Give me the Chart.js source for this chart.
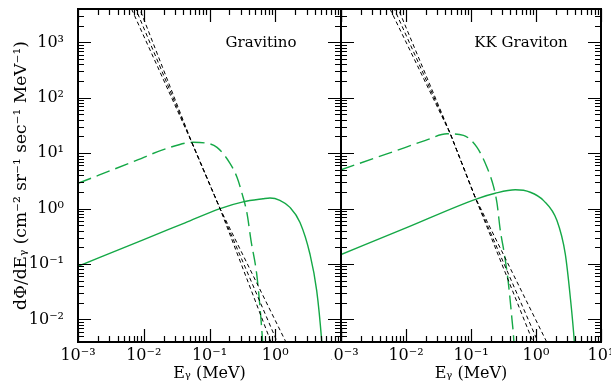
<!DOCTYPE html>
<html><head><meta charset="utf-8">
<script src="https://cdn.jsdelivr.net/npm/chart.js@4.4.0/dist/chart.umd.min.js"></script>
<style>
html,body{margin:0;padding:0;background:#fff;}
#wrap{position:relative;width:611px;height:385px;overflow:hidden;background:#fff;}
#c1{position:absolute;left:0;top:0;width:345px;height:385px;}
#c2{position:absolute;left:331px;top:0;width:280px;height:385px;}
</style></head><body>
<div id="wrap"><canvas id="c1" width="345" height="385"></canvas><canvas id="c2" width="280" height="385"></canvas></div>
<script>
// ---- tick values / labels ----
const xTickValues = [0.001, 0.01, 0.1, 1, 10];
const xTickLabels = ['10⁻³','10⁻²','10⁻¹','10⁰','10¹'];
const yTickValues = [0.01, 0.1, 1, 10, 100, 1000];
const yTickLabels = ['10⁻²','10⁻¹','10⁰','10¹','10²','10³'];
const panelNames = ['Gravitino', 'KK Graviton'];

// ---- Gravitino panel (E in MeV, flux) ----
const gravDashedE    = [0.001,0.00687,0.0226,0.0561,0.0851,0.130,0.205,0.262,0.312,0.372,0.428,0.522,0.586,0.644,0.692];
const gravDashedFlux = [2.85,7.0,12.2,15.7,15.3,12.7,6.55,3.66,1.88,0.818,0.264,0.0661,0.0166,0.00385,0.001];
const gravSolidE     = [0.001,0.01,0.0425,0.145,0.324,0.652,0.832,1.175,1.675,2.38,3.37,4.27,5.08,5.50];
const gravSolidFlux  = [0.0906,0.275,0.553,1.0,1.32,1.50,1.55,1.41,1.05,0.562,0.151,0.0331,0.00417,0.001];
const gravBgFlux     = [4000, 15.7, 1.0, 0.0039];
const gravBgE1       = [0.00652, 0.0537, 0.1445, 1.452];
const gravBgE2       = [0.00757, 0.0537, 0.1445, 1.072];
const gravBgE3       = [0.00871, 0.0537, 0.1445, 0.861];

// ---- KK Graviton panel ----
const kkDashedE    = [0.001,0.00646,0.02,0.0427,0.0767,0.123,0.176,0.222,0.251,0.282,0.324,0.372,0.427,0.457,0.479];
const kkDashedFlux = [5.01,10.7,17.0,22.4,20.9,12.8,5.56,2.51,1.26,0.407,0.158,0.0501,0.01,0.00389,0.001];
const kkSolidE     = [0.001,0.01,0.123,0.236,0.48,0.817,1.31,2.10,2.82,3.37,3.89,4.17];
const kkSolidFlux  = [0.148,0.448,1.50,1.89,2.18,1.97,1.39,0.607,0.152,0.0251,0.00389,0.001];
const kkBgFlux     = [4000, 22.6, 1.585, 0.0039];
const kkBgE1       = [0.00568, 0.0479, 0.1161, 1.462];
const kkBgE2       = [0.00661, 0.0479, 0.1161, 1.074];
const kkBgE3       = [0.00762, 0.0479, 0.1161, 0.900];

const X_MIN = 0.001, X_MAX = 10, Y_MIN = 0.0039, Y_MAX = 4000;
const FONT = "'DejaVu Serif','DejaVu Sans',serif";
const GREEN = 'rgb(20,168,70)';

function pts(xs, ys){ return xs.map((x,i)=>({x:x, y:ys[i]})); }

function greenDs(xs, ys, dashed){
  return {data: pts(xs, ys), borderColor: GREEN, borderWidth: 1.4, borderDash: dashed ? [14,6] : [],
          pointRadius: 0, cubicInterpolationMode: 'monotone', fill: false};
}
function bgDs(xs, ys, phase){
  return {data: pts(xs, ys), borderColor: '#000', borderWidth: 1, borderDash: [4,3], borderDashOffset: phase,
          pointRadius: 0, tension: 0, fill: false};
}

const frame = {
  id: 'frame',
  afterDraw(chart){
    const {ctx, chartArea: a, scales: {x, y}} = chart;
    const o = chart.options.plugins.frame;
    ctx.save();
    ctx.strokeStyle = '#000';
    ctx.lineWidth = 1.2;
    ctx.beginPath();
    for (let d = -3; d <= 1; d++) {
      for (let m = 1; m <= 9; m++) {
        const v = m * Math.pow(10, d);
        if (v < X_MIN * 0.999 || v > X_MAX * 1.001) continue;
        const px = Math.round(x.getPixelForValue(v)) + 0.5;
        const L = m === 1 ? 13 : 6;
        ctx.moveTo(px, a.bottom); ctx.lineTo(px, a.bottom - L);
        ctx.moveTo(px, a.top); ctx.lineTo(px, a.top + L);
      }
    }
    for (let d = -3; d <= 3; d++) {
      for (let m = 1; m <= 9; m++) {
        const v = m * Math.pow(10, d);
        if (v < Y_MIN || v > Y_MAX) continue;
        const py = Math.round(y.getPixelForValue(v)) + 0.5;
        const L = m === 1 ? 13 : 6;
        ctx.moveTo(a.left, py); ctx.lineTo(a.left + L, py);
        ctx.moveTo(a.right, py); ctx.lineTo(a.right - L, py);
      }
    }
    ctx.stroke();
    ctx.lineWidth = 2;
    ctx.strokeRect(a.left, a.top, a.right - a.left, a.bottom - a.top);
    ctx.fillStyle = '#000';
    ctx.font = '15px ' + FONT;
    ctx.textAlign = 'center';
    ctx.textBaseline = 'middle';
    ctx.fillText(o.label, a.right - 80, a.top + 34);
    ctx.restore();
  }
};

function makeChart(id, datasets, cfg){
  return new Chart(document.getElementById(id), {
    type: 'line',
    data: {datasets: datasets},
    plugins: [frame],
    options: {
      responsive: false, animation: false, devicePixelRatio: 1,
      layout: {padding: {left: 0, right: cfg.padRight, top: 9, bottom: 0}},
      plugins: {legend: {display: false}, tooltip: {enabled: false}, frame: {label: cfg.label}},
      scales: {
        x: {
          type: 'logarithmic', min: X_MIN, max: X_MAX,
          grid: {display: false, drawTicks: false}, border: {display: false},
          afterBuildTicks: s => { s.ticks = cfg.xTicks.map(v => ({value: v})); },
          afterFit: s => { s.height = 43; s.paddingLeft = 0; s.paddingRight = 0; },
          ticks: {autoSkip: false, maxRotation: 0, padding: 4, color: '#000',
                  font: {family: FONT, size: 16},
                  callback: v => { const i = xTickValues.findIndex(t => Math.abs(t - v) / t < 1e-6); return i >= 0 ? xTickLabels[i] : ''; }},
          title: {display: true, text: 'E\u1D67 (MeV)', color: '#000', font: {family: FONT, size: 16},
                  padding: {top: 0, bottom: 2}}
        },
        y: {
          type: 'logarithmic', min: Y_MIN, max: Y_MAX,
          grid: {display: false, drawTicks: false}, border: {display: false},
          afterBuildTicks: s => { s.ticks = yTickValues.map(v => ({value: v})); },
          afterFit: s => { s.width = cfg.yWidth; s.paddingTop = 0; s.paddingBottom = 0; },
          ticks: {display: cfg.yLabels, autoSkip: false, padding: 14, color: '#000',
                  font: {family: FONT, size: 16},
                  callback: v => { const i = yTickValues.findIndex(t => Math.abs(t - v) / t < 1e-6); return i >= 0 ? yTickLabels[i] : ''; }},
          title: {display: cfg.yLabels, text: 'dΦ/dE\u1D67 (cm⁻² sr⁻¹ sec⁻¹ MeV⁻¹)', color: '#000',
                  font: {family: FONT, size: 17}, padding: {top: 11, bottom: 0}}
        }
      }
    }
  });
}

makeChart('c1', [
  bgDs(gravBgE1, gravBgFlux, 0), bgDs(gravBgE2, gravBgFlux, 2), bgDs(gravBgE3, gravBgFlux, 4),
  greenDs(gravDashedE, gravDashedFlux, true),
  greenDs(gravSolidE, gravSolidFlux, false)
], {label: panelNames[0], padRight: 4, yWidth: 78, yLabels: true, xTicks: [0.001, 0.01, 0.1, 1]});

makeChart('c2', [
  bgDs(kkBgE1, kkBgFlux, 0), bgDs(kkBgE2, kkBgFlux, 2), bgDs(kkBgE3, kkBgFlux, 4),
  greenDs(kkDashedE, kkDashedFlux, true),
  greenDs(kkSolidE, kkSolidFlux, false)
], {label: panelNames[1], padRight: 10, yWidth: 10, yLabels: false, xTicks: xTickValues});
</script>
</body></html>
